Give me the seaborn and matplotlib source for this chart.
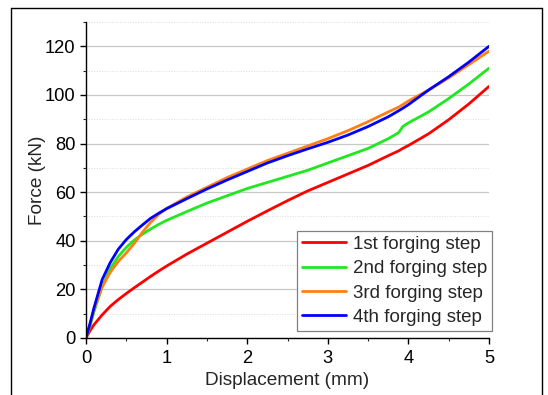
import numpy as np
import pandas as pd
import seaborn as sns
import matplotlib
matplotlib.use("Agg")
import matplotlib.pyplot as plt
from matplotlib.ticker import MultipleLocator
from matplotlib.lines import Line2D

displacement = [0, 0.05, 0.1, 0.2, 0.3, 0.4, 0.5, 0.6, 0.7, 0.8, 0.9, 1.0, 1.25, 1.5,
                1.75, 2.0, 2.25, 2.5, 2.75, 3.0, 3.25, 3.5, 3.75, 3.88, 3.93, 4.0,
                4.25, 4.5, 4.75, 5.0]
force_1st = [0, 3, 5.5, 9.5, 13, 15.8, 18.3, 20.7, 23, 25.3, 27.5, 29.6, 34.5, 39,
             43.5, 48, 52.3, 56.5, 60.5, 64, 67.5, 71, 75, 77, 78, 79.2,
             84, 89.8, 96.3, 103.5]
force_2nd = [0, 5, 11, 21, 28.5, 33.5, 37.3, 40.3, 42.7, 44.8, 46.7, 48.4, 52, 55.5,
             58.5, 61.5, 64, 66.5, 69, 72, 75, 78, 82, 84.5, 87, 88.5,
             93, 98.5, 104.5, 111]
force_3rd = [0, 5.5, 12, 21, 27, 31.5, 35, 39, 43.5, 47.5, 50.8, 53.3, 58, 62,
             66, 69.5, 73, 76, 79, 82, 85.3, 89, 93, 95, 96, 97.5,
             102, 107, 112.5, 118]
force_4th = [0, 6, 12.5, 24, 31, 36.5, 40.5, 43.7, 46.5, 49.2, 51.3, 53.2, 57.3, 61.3,
             65, 68.5, 72, 75, 77.8, 80.5, 83.5, 87, 91, 93.5, 94.5, 96,
             102, 107.5, 113.5, 120]
series_names = ["1st forging step", "2nd forging step", "3rd forging step", "4th forging step"]
series_colors = ["#ff0000", "#1fe81f", "#ff8012", "#0000ff"]

frames = []
for name, vals in zip(series_names, [force_1st, force_2nd, force_3rd, force_4th]):
    frames.append(pd.DataFrame({"Displacement": displacement, "Force": vals, "Series": name}))
df = pd.concat(frames, ignore_index=True)

sns.set_style("white")
plt.rcParams['font.family'] = ['Liberation Sans', 'DejaVu Sans']

fig = plt.figure(figsize=(5.48, 3.95), dpi=100)
ax = fig.add_axes([86/548, 1-338/395, (489-86)/548, (338-22)/395])

sns.lineplot(data=df, x="Displacement", y="Force", hue="Series",
             palette=dict(zip(series_names, series_colors)), hue_order=series_names,
             estimator=None, sort=False, linewidth=2.0, ax=ax, legend=False)

ax.set_xlim(0, 5)
ax.set_ylim(0, 130)
ax.xaxis.set_major_locator(MultipleLocator(1))
ax.xaxis.set_minor_locator(MultipleLocator(0.5))
ax.yaxis.set_major_locator(MultipleLocator(20))
ax.yaxis.set_minor_locator(MultipleLocator(10))
ax.set_yticks([0, 20, 40, 60, 80, 100, 120])
ax.grid(which="major", axis="y", color="#c8c8c8", linewidth=0.9, linestyle="-")
ax.grid(which="minor", axis="y", color="#dddddd", linewidth=0.7, linestyle=":")
ax.set_axisbelow(True)
for s in ["top", "right"]:
    ax.spines[s].set_visible(False)
for s in ["left", "bottom"]:
    ax.spines[s].set_color("black")
    ax.spines[s].set_linewidth(1.0)
ax.tick_params(which="major", direction="out", length=4.5, width=1, labelsize=13.2,
               bottom=True, left=True, colors="black", pad=3)
ax.tick_params(axis="x", which="major", pad=4)
ax.tick_params(which="minor", direction="out", length=2.5, width=0.8, bottom=True, left=True)
ax.set_xlabel("Displacement (mm)", fontsize=13.7, labelpad=4)
ax.set_ylabel("Force (kN)", fontsize=13.7, labelpad=-1)

handles = [Line2D([0], [0], color=c, lw=2.0) for c in series_colors]
leg = ax.legend(handles, series_names, loc="lower right", bbox_to_anchor=(1.008, 0.022),
                fontsize=13.5, frameon=True, fancybox=False, framealpha=1,
                edgecolor="#808080", handlelength=2.35, handletextpad=0.35,
                labelspacing=0.38, borderpad=0.28, borderaxespad=0)
leg.get_frame().set_linewidth(0.9)

# outer figure frame (left, top, right)
fl, fr, ft = 11/548, 542/548, 1-8/395
fig.add_artist(Line2D([fl, fl], [0, ft], transform=fig.transFigure, color="black", lw=1))
fig.add_artist(Line2D([fl, fr], [ft, ft], transform=fig.transFigure, color="black", lw=1))
fig.add_artist(Line2D([fr, fr], [0, ft], transform=fig.transFigure, color="black", lw=1))

fig.savefig("out.png", dpi=100)
